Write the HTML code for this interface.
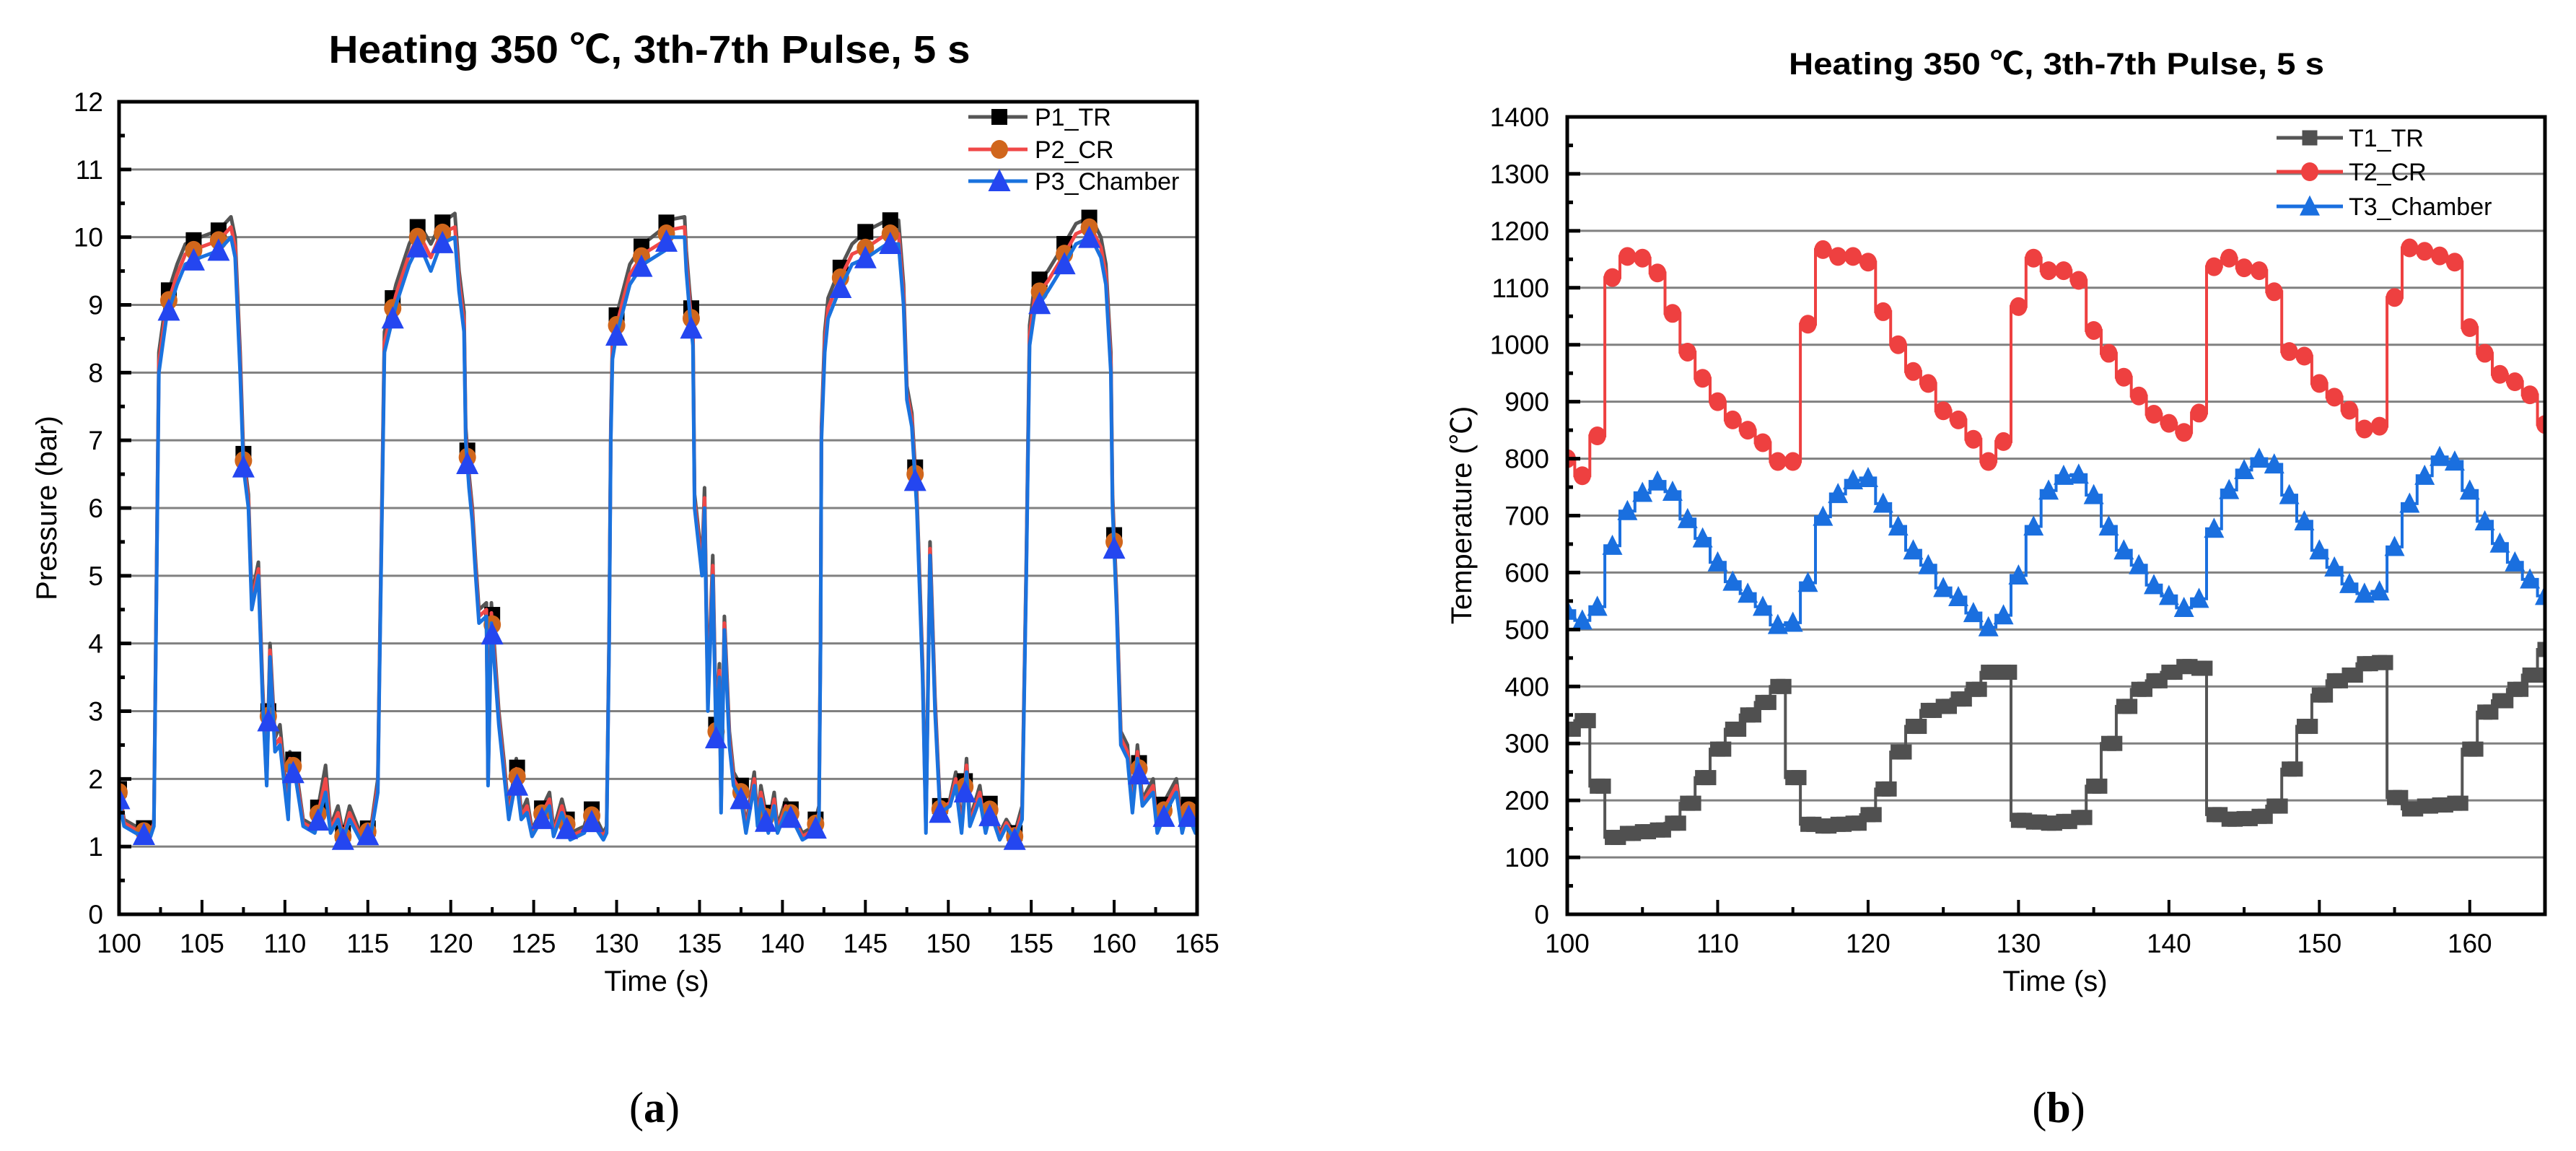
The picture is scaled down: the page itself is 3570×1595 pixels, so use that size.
<!DOCTYPE html>
<html><head><meta charset="utf-8"><style>
html,body{margin:0;padding:0;background:#fff;}
svg{display:block;font-family:"Liberation Sans","Noto Sans CJK SC",sans-serif;}
</style></head><body>
<svg id="fig" width="3570" height="1595" viewBox="0 0 3570 1595" xmlns="http://www.w3.org/2000/svg">
<defs>
<clipPath id="clipL"><rect x="165" y="141" width="1494" height="1126"/></clipPath>
<clipPath id="clipR"><rect x="2172" y="162" width="1355" height="1105"/></clipPath>
</defs>
<text x="900" y="87" font-size="54" font-weight="bold" text-anchor="middle" textLength="889" lengthAdjust="spacingAndGlyphs">Heating 350 ℃, 3th-7th Pulse, 5 s</text>
<text x="2850" y="103" font-size="43" font-weight="bold" text-anchor="middle" textLength="742" lengthAdjust="spacingAndGlyphs">Heating 350 ℃, 3th-7th Pulse, 5 s</text>
<text transform="translate(78,704) rotate(-90)" font-size="40" text-anchor="middle">Pressure (bar)</text>
<text transform="translate(2039,714) rotate(-90)" font-size="40" text-anchor="middle">Temperature (℃)</text>
<text x="910" y="1373" font-size="40" text-anchor="middle">Time (s)</text>
<text x="2848" y="1373" font-size="40" text-anchor="middle">Time (s)</text>
<text x="907" y="1555" font-size="60" text-anchor="middle" font-family="Liberation Serif, serif">(<tspan font-weight="bold">a</tspan>)</text>
<text x="2853" y="1555" font-size="60" text-anchor="middle" font-family="Liberation Serif, serif">(<tspan font-weight="bold">b</tspan>)</text>
<g id="L"></g>
<g id="R"></g>
</svg>
<script>
// ---------- Pressure data ----------
const pTime = [
100,100.3,101,101.9,102.1,102.4,102.85,103.5,104,104.9,
106,106.75,107,107.3,107.5,107.8,108,108.4,108.65,108.9,
109.1,109.4,109.7,110.2,110.3,110.65,111.1,111.8,112.45,112.75,
113.2,113.5,113.9,114.55,115.2,115.6,115.7,116,116.7,117.5,
118.1,118.8,119.4,120.25,120.5,120.8,120.9,121.1,121.3,121.5,
121.7,122.15,122.25,122.45,122.9,123.2,123.5,123.95,124.25,124.6,
124.9,125.95,126.2,126.7,127.2,128.05,128.4,129.2,129.4,129.55,
129.65,129.75,129.95,130.8,131.6,132.9,133.05,134.1,134.2,134.4,
134.6,134.7,135.15,135.3,135.5,135.8,136.0,136.2,136.3,136.5,
136.8,137.05,137.5,137.8,138.3,138.5,138.7,139.15,139.5,139.7,
140.2,140.6,141.2,141.9,142.2,142.3,142.35,142.55,142.75,143.4,
144.2,145.1,146.3,147.0,147.3,147.5,147.8,148.1,148.45,148.65,
148.9,149.2,149.5,150.1,150.45,150.8,151.1,151.3,151.9,152.25,
152.55,153.1,153.5,154.0,154.45,154.7,154.9,155.2,156.0,157.0,
157.7,158.6,159.2,159.5,159.8,159.9,160.15,160.4,160.8,161.1,
161.4,161.7,162.35,162.6,163.1,163.75,164.1,164.4,164.9,165];
const p1TR = [
1.85,1.4,1.3,1.25,1.4,8.3,9.1,9.6,9.9,10.0,
10.1,10.3,10.0,8.3,6.8,6.2,4.7,5.2,3.4,2.0,
4.0,2.6,2.8,1.5,2.4,2.2,1.4,1.3,2.2,1.3,
1.6,1.2,1.6,1.2,1.3,2.0,3.7,8.6,9.3,9.9,
10.2,9.9,10.2,10.35,9.5,8.9,7.2,6.5,6.0,5.2,
4.5,4.6,2.0,4.6,3.0,2.3,1.5,2.3,1.5,1.7,
1.25,1.8,1.25,1.7,1.2,1.3,1.6,1.2,1.3,4.2,
7.2,8.5,8.8,9.6,9.9,10.15,10.25,10.3,9.8,9.2,
8.7,6.2,5.2,6.3,3.2,5.3,2.8,3.7,1.6,4.4,
2.7,2.1,1.9,1.3,2.1,1.4,1.9,1.3,1.8,1.3,
1.7,1.5,1.2,1.3,1.6,4.2,7.2,8.6,9.1,9.5,
9.9,10.1,10.25,10.25,9.3,7.8,7.4,6.2,3.7,1.3,
5.5,3.2,1.6,1.7,2.1,1.3,2.3,1.4,1.9,1.3,
1.7,1.2,1.4,1.2,1.6,5.2,8.7,9.3,9.5,9.9,
10.2,10.3,10.0,9.6,8.3,6.2,4.7,2.7,2.5,1.6,
2.5,1.7,2.0,1.3,1.7,2.0,1.3,1.7,1.3,1.4];
const p2CR = [
1.8,1.35,1.25,1.2,1.35,8.15,8.95,9.45,9.75,9.85,
9.95,10.15,9.85,8.15,6.7,6.1,4.6,5.1,3.3,1.95,
3.9,2.5,2.6,1.45,2.3,2.1,1.35,1.25,2.0,1.25,
1.5,1.15,1.5,1.15,1.25,1.9,3.6,8.45,9.15,9.75,
10.05,9.7,10.05,10.15,9.35,8.75,7.1,6.4,5.9,5.1,
4.4,4.5,1.95,4.45,2.9,2.2,1.45,2.15,1.45,1.6,
1.2,1.7,1.2,1.6,1.15,1.25,1.5,1.15,1.25,4.1,
7.1,8.35,8.65,9.45,9.75,9.95,10.1,10.15,9.65,9.05,
8.55,6.1,5.1,6.15,3.1,5.15,2.7,3.6,1.55,4.3,
2.6,2.0,1.8,1.25,2.0,1.35,1.8,1.25,1.7,1.25,
1.6,1.45,1.15,1.25,1.5,4.1,7.1,8.45,8.95,9.35,
9.75,9.85,10.05,10.05,9.15,7.7,7.3,6.1,3.6,1.25,
5.4,3.1,1.55,1.65,2.0,1.25,2.2,1.35,1.8,1.25,
1.6,1.15,1.35,1.15,1.5,5.1,8.55,9.1,9.35,9.75,
10.05,10.15,9.85,9.45,8.15,6.1,4.6,2.6,2.4,1.55,
2.4,1.65,1.9,1.25,1.6,1.9,1.25,1.6,1.25,1.35];
const p3Chamber = [
1.7,1.3,1.2,1.15,1.3,8.0,8.8,9.3,9.6,9.7,
9.8,10.0,9.7,8.0,6.6,6.0,4.5,5.0,3.2,1.9,
3.8,2.4,2.5,1.4,2.2,2.0,1.3,1.2,1.8,1.2,
1.4,1.1,1.4,1.1,1.2,1.8,3.5,8.3,9.0,9.6,
9.9,9.5,9.9,10.0,9.2,8.6,7.0,6.3,5.8,5.0,
4.3,4.4,1.9,4.3,2.8,2.1,1.4,2.0,1.4,1.5,
1.15,1.6,1.15,1.5,1.1,1.2,1.4,1.1,1.2,4.0,
7.0,8.2,8.5,9.3,9.6,9.8,10.0,10.0,9.5,8.9,
8.4,6.0,5.0,6.0,3.0,5.0,2.6,3.5,1.5,4.2,
2.5,1.9,1.7,1.2,1.9,1.3,1.7,1.2,1.6,1.2,
1.5,1.4,1.1,1.2,1.4,4.0,7.0,8.3,8.8,9.2,
9.6,9.7,9.9,9.9,9.0,7.6,7.2,6.0,3.5,1.2,
5.3,3.0,1.5,1.6,1.9,1.2,2.1,1.3,1.7,1.2,
1.5,1.1,1.3,1.1,1.4,5.0,8.4,8.9,9.2,9.6,
9.9,10.0,9.7,9.3,8.0,6.0,4.5,2.5,2.3,1.5,
2.3,1.6,1.8,1.2,1.5,1.8,1.2,1.5,1.2,1.3];
const pYTicks = ["0","1","2","3","4","5","6","7","8","9","10","11","12"];
const pXTicks = ["100","105","110","115","120","125","130","135","140","145","150","155","160","165"];

// ---------- Temperature data (1 s samples from 100 s to 165 s) ----------
const tStart = 100;
const t1TR = [325,340,225,135,142,145,148,160,195,240,290,325,350,372,400,240,158,155,158,160,175,220,285,330,358,365,378,395,425,425,165,162,160,163,170,225,300,365,395,410,425,435,432,175,167,168,172,190,255,330,385,410,420,440,442,205,185,190,192,195,290,355,375,395,420,465];
const t2CR = [800,770,840,1118,1155,1152,1126,1055,987,941,900,868,850,828,795,795,1036,1167,1155,1155,1145,1058,1000,953,932,884,868,834,795,830,1067,1152,1130,1130,1113,1025,985,943,910,878,862,846,880,1137,1152,1135,1130,1093,988,980,932,908,885,852,857,1083,1170,1164,1156,1145,1030,985,948,935,912,860];
const t3Chamber = [533,516,540,647,708,740,760,742,694,660,618,584,563,540,508,512,582,698,738,762,766,721,681,639,613,573,557,529,504,525,595,681,744,770,772,736,681,639,613,578,559,538,554,677,745,780,800,790,736,690,639,609,580,563,567,645,721,770,803,795,744,690,651,618,588,559];
const tYTicks = ["0","100","200","300","400","500","600","700","800","900","1000","1100","1200","1300","1400"];
const tXTicks = ["100","110","120","130","140","150","160"];

const NS = "http://www.w3.org/2000/svg";
function mk(tag, parent){ const e=document.createElementNS(NS,tag); parent.appendChild(e); return e; }

// axis functions
const xL = t => 165 + (t-100)*1494/65;
const yL = v => 1267 - v*1126/12;
const xR = t => 2172 + (t-100)*1355/65;
const yR = v => 1267 - v*1105/1400;

function interp(ts, vs, t){
  for(let i=1;i<ts.length;i++){ if(ts[i]>=t){ const f=(t-ts[i-1])/(ts[i]-ts[i-1]); return vs[i-1]+f*(vs[i]-vs[i-1]); } }
  return vs[vs.length-1];
}
function marker(kind, x, y, color, parent, s){
  let e;
  if(kind==="square"){ e=mk("rect",parent); e.setAttribute("x",x-s/2); e.setAttribute("y",y-s/2); e.setAttribute("width",s); e.setAttribute("height",s); }
  else if(kind==="circle"){ e=mk("ellipse",parent); e.setAttribute("cx",x); e.setAttribute("cy",y); e.setAttribute("rx",s/2); e.setAttribute("ry",s/2+1); }
  else { e=mk("polygon",parent); e.setAttribute("points",`${x},${y-s*0.55} ${x-s/2},${y+s*0.45} ${x+s/2},${y+s*0.45}`); }
  e.setAttribute("fill",color);
  return e;
}

// ================= LEFT (pressure) =================
const L = document.getElementById("L");
// gridlines
for(let i=1;i<pYTicks.length-1;i++){
  const g=mk("line",L); g.setAttribute("x1",165); g.setAttribute("x2",1659); g.setAttribute("y1",yL(+pYTicks[i])); g.setAttribute("y2",yL(+pYTicks[i])); g.setAttribute("stroke","#808080"); g.setAttribute("stroke-width",3);
  
  
}
const pSeries = [
  {vals:p1TR, line:"#555555", mcol:"#000000", kind:"square", s:22, name:"p1-tr"},
  {vals:p2CR, line:"#f04848", mcol:"#d0661c", kind:"circle", s:24, name:"p2-cr"},
  {vals:p3Chamber, line:"#1a72de", mcol:"#2446f0", kind:"triangle", s:31, name:"p3-chamber"}
];
const pc = mk("g",L); pc.setAttribute("clip-path","url(#clipL)");


pSeries.forEach(S=>{
  const pl=mk("polyline",pc);
  pl.setAttribute("points", pTime.map((t,i)=>`${xL(t).toFixed(1)},${yL(S.vals[i]).toFixed(1)}`).join(" "));
  pl.setAttribute("fill","none"); pl.setAttribute("stroke",S.line); pl.setAttribute("stroke-width",5); pl.setAttribute("stroke-linejoin","round");
  
  
  for(let k=0;k<=43;k++){
    const t=100+1.5*k;
    const m=marker(S.kind,xL(t),yL(interp(pTime,S.vals,t)),S.mcol,pc,S.s);
    
    
  }
});
// axes frame
const frL=mk("rect",L); frL.setAttribute("x",165); frL.setAttribute("y",141); frL.setAttribute("width",1494); frL.setAttribute("height",1126); frL.setAttribute("fill","none"); frL.setAttribute("stroke","#000"); frL.setAttribute("stroke-width",5);


for(let v=0; v<=12; v+=0.5){
  const major = Number.isInteger(v);
  const tk=mk("line",L); tk.setAttribute("x1",165); tk.setAttribute("x2",165+(major?17:8)); tk.setAttribute("y1",yL(v)); tk.setAttribute("y2",yL(v)); tk.setAttribute("stroke","#000"); tk.setAttribute("stroke-width",5);
  
  
}
pYTicks.forEach(s=>{
  const tx=mk("text",L); tx.setAttribute("x",143); tx.setAttribute("y",yL(+s)+13); tx.setAttribute("font-size",37); tx.setAttribute("text-anchor","end"); tx.textContent=s;
  
  
});
for(let t=100;t<=165;t+=2.5){
  const major = (t%5===0);
  const tk=mk("line",L); tk.setAttribute("x1",xL(t)); tk.setAttribute("x2",xL(t)); tk.setAttribute("y1",1267); tk.setAttribute("y2",1267-(major?20:10)); tk.setAttribute("stroke","#000"); tk.setAttribute("stroke-width",4);
  
  
}
pXTicks.forEach(s=>{
  const tx=mk("text",L); tx.setAttribute("x",xL(+s)); tx.setAttribute("y",1320); tx.setAttribute("font-size",37); tx.setAttribute("text-anchor","middle"); tx.textContent=s;
  
  
});
// legend
const pLegRows=[162,207,251], pLegLabels=["P1_TR","P2_CR","P3_Chamber"];
pSeries.forEach((S,i)=>{
  const g=mk("g",L);
  
  
  const ln=mk("line",g); ln.setAttribute("x1",1342); ln.setAttribute("x2",1424); ln.setAttribute("y1",pLegRows[i]); ln.setAttribute("y2",pLegRows[i]); ln.setAttribute("stroke",S.line); ln.setAttribute("stroke-width",5);
  
  
  const m=marker(S.kind,1385,pLegRows[i],S.mcol,g,S.s);
  
  
  const tx=mk("text",g); tx.setAttribute("x",1434); tx.setAttribute("y",pLegRows[i]+12); tx.setAttribute("font-size",34); tx.textContent=pLegLabels[i];
  
  
});

// ================= RIGHT (temperature) =================
const R = document.getElementById("R");
for(let i=1;i<tYTicks.length-1;i++){
  const g=mk("line",R); g.setAttribute("x1",2172); g.setAttribute("x2",3527); g.setAttribute("y1",yR(+tYTicks[i])); g.setAttribute("y2",yR(+tYTicks[i])); g.setAttribute("stroke","#808080"); g.setAttribute("stroke-width",3);
  
  
}
const tSeries = [
  {vals:t1TR, line:"#555555", mcol:"#505050", kind:"square", s:21, name:"t1-tr", half:true},
  {vals:t2CR, line:"#ee4040", mcol:"#ee4040", kind:"circle", s:24, name:"t2-cr", half:false},
  {vals:t3Chamber, line:"#1a6fdf", mcol:"#1a6fdf", kind:"triangle", s:28, name:"t3-chamber", half:false}
];
const rc = mk("g",R); rc.setAttribute("clip-path","url(#clipR)");


tSeries.forEach(S=>{
  let pts=[];
  S.vals.forEach((v,i)=>{
    const t=tStart+i;
    if(i>0) pts.push(`${xR(t-0.5).toFixed(1)},${yR(S.vals[i-1]).toFixed(1)}`, `${xR(t-0.5).toFixed(1)},${yR(v).toFixed(1)}`);
    pts.push(`${xR(t).toFixed(1)},${yR(v).toFixed(1)}`);
  });
  const pl=mk("polyline",rc); pl.setAttribute("points",pts.join(" "));
  pl.setAttribute("fill","none"); pl.setAttribute("stroke",S.line); pl.setAttribute("stroke-width",4);
  
  
  S.vals.forEach((v,i)=>{
    const t=tStart+i;
    const m=marker(S.kind,xR(t),yR(v),S.mcol,rc,S.s);
    
    
    if(S.half && i<S.vals.length-1){
      const m2=marker(S.kind,xR(t+0.4),yR(v),S.mcol,rc,S.s);
      
      
    }
  });
});
const frR=mk("rect",R); frR.setAttribute("x",2172); frR.setAttribute("y",162); frR.setAttribute("width",1355); frR.setAttribute("height",1105); frR.setAttribute("fill","none"); frR.setAttribute("stroke","#000"); frR.setAttribute("stroke-width",5);


for(let v=0; v<=1400; v+=50){
  const major = (v%100===0);
  const tk=mk("line",R); tk.setAttribute("x1",2172); tk.setAttribute("x2",2172+(major?18:8)); tk.setAttribute("y1",yR(v)); tk.setAttribute("y2",yR(v)); tk.setAttribute("stroke","#000"); tk.setAttribute("stroke-width",5);
  
  
}
tYTicks.forEach(s=>{
  const tx=mk("text",R); tx.setAttribute("x",2147); tx.setAttribute("y",yR(+s)+13); tx.setAttribute("font-size",37); tx.setAttribute("text-anchor","end"); tx.textContent=s;
  
  
});
for(let t=100;t<=165;t+=5){
  const major = (t%10===0);
  const tk=mk("line",R); tk.setAttribute("x1",xR(t)); tk.setAttribute("x2",xR(t)); tk.setAttribute("y1",1267); tk.setAttribute("y2",1267-(major?20:10)); tk.setAttribute("stroke","#000"); tk.setAttribute("stroke-width",4);
  
  
}
tXTicks.forEach(s=>{
  const tx=mk("text",R); tx.setAttribute("x",xR(+s)); tx.setAttribute("y",1320); tx.setAttribute("font-size",37); tx.setAttribute("text-anchor","middle"); tx.textContent=s;
  
  
});
const tLegRows=[191,238,286], tLegLabels=["T1_TR","T2_CR","T3_Chamber"];
tSeries.forEach((S,i)=>{
  const g=mk("g",R);
  
  
  const ln=mk("line",g); ln.setAttribute("x1",3155); ln.setAttribute("x2",3247); ln.setAttribute("y1",tLegRows[i]); ln.setAttribute("y2",tLegRows[i]); ln.setAttribute("stroke",S.line); ln.setAttribute("stroke-width",5);
  
  
  const m=marker(S.kind,3201,tLegRows[i],S.mcol,g,S.s);
  
  
  const tx=mk("text",g); tx.setAttribute("x",3255); tx.setAttribute("y",tLegRows[i]+12); tx.setAttribute("font-size",34); tx.textContent=tLegLabels[i];
  
  
});
</script>
</body></html>
